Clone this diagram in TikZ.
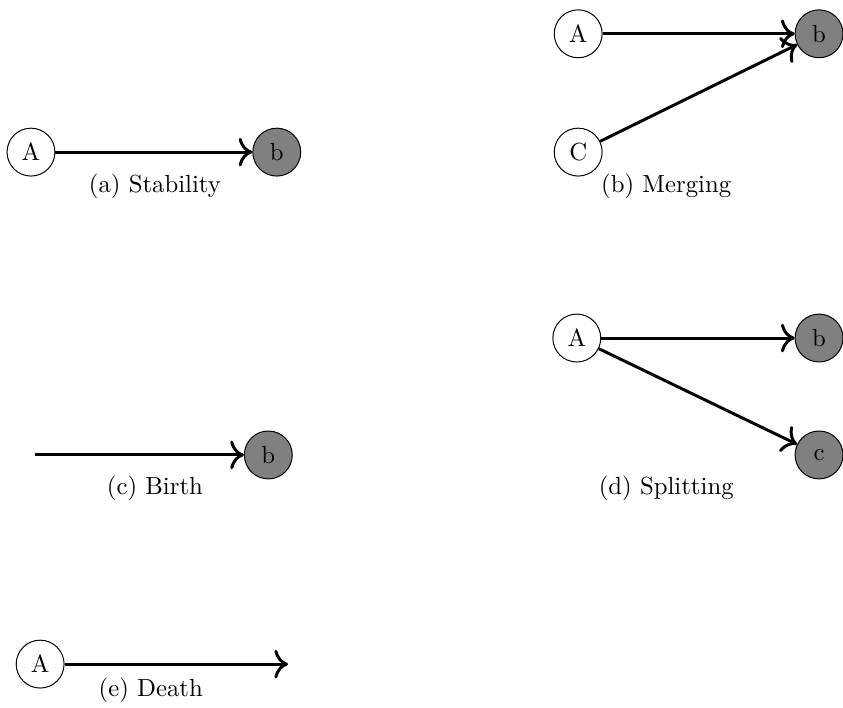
\documentclass[tikz,border=0pt]{standalone}
\usepackage{xcolor}
\usepackage{tikz}
\usetikzlibrary{arrows.meta}
\tikzstyle{old} = [circle, minimum size=0.68cm, inner sep=0pt, draw=black, fill=white]
\tikzstyle{new} = [circle, minimum size=0.68cm, inner sep=0pt, draw=black, fill=gray]
\tikzstyle{caption} = [inner sep=0pt]
\tikzstyle{arrow} = [very thick,-{To[scale=1.3]}]

\begin{document}
\begin{tikzpicture}
	\useasboundingbox (0,0) rectangle (11.97,10.04);

	% (a) stability
	\node (sA) [old] at (0.44,7.88) {A};
	\node (sb) [new] at (3.93,7.88) {b};
	\node (scap) [caption] at (2.20,7.40) {(a) Stability};
	\draw [arrow] (sA) -- (sb);

	% (b) merging
	\node (mA) [old] at (8.21,9.56) {A};
	\node (mC) [old] at (8.21,7.88) {C};
	\node (mb) [new] at (11.63,9.56) {b};
	\node (mcap) [caption] at (9.46,7.40) {(b) Merging};
	\draw [arrow] (mA) -- (mb);
	\draw [arrow] (mC) -- (mb);

	% (c) birth
	\coordinate (bstart) at (0.50,3.58);
	\node (bb) [new] at (3.81,3.58) {b};
	\node (bcap) [caption] at (2.20,3.11) {(c) Birth};
	\draw [arrow] (bstart) -- (bb);

	% (d) splitting
	\node (pA) [old] at (8.19,5.24) {A};
	\node (pb) [new] at (11.63,5.24) {b};
	\node (pc) [new] at (11.63,3.58) {c};
	\node (pcap) [caption] at (9.46,3.11) {(d) Splitting};
	\draw [arrow] (pA) -- (pb);
	\draw [arrow] (pA) -- (pc);

	% (e) death
	\node (dA) [old] at (0.57,0.61) {A};
	\coordinate (dend) at (4.09,0.61);
	\node (dcap) [caption] at (2.14,0.24) {(e) Death};
	\draw [arrow] (dA) -- (dend);

\end{tikzpicture}
\end{document}
